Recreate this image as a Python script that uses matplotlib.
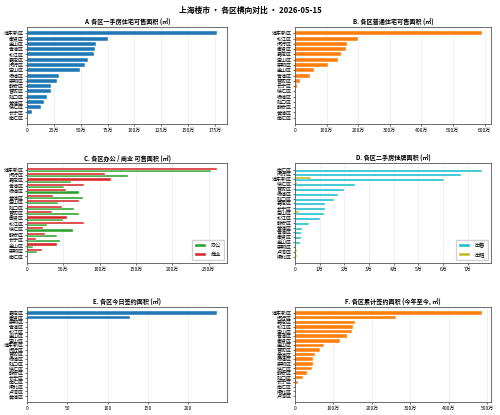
import numpy as np
import matplotlib
matplotlib.use("Agg")
import matplotlib.pyplot as plt
from matplotlib.ticker import FuncFormatter

plt.rcParams['font.family'] = ['Noto Sans CJK SC', 'DejaVu Sans']
plt.rcParams['axes.unicode_minus'] = False

# A. 一手房住宅可售面积 (㎡)
districts_a = ['浦东新区', '奉贤区', '金山区', '青浦区', '松江区', '嘉定区', '闵行区', '宝山区',
               '杨浦区', '崇明区', '静安区', '普陀区', '虹口区', '黄浦区', '徐汇区', '长宁区', '南汇区']
values_a = [1774000, 752000, 643000, 630000, 627000, 564000, 539000, 498000,
            301000, 276000, 223000, 223000, 185000, 160000, 135000, 50000, 0]

# B. 普通住宅可售面积 (㎡)
districts_b = ['浦东新区', '松江区', '闵行区', '奉贤区', '嘉定区', '宝山区', '崇明区', '金山区',
               '青浦区', '普陀区', '长宁区', '徐汇区', '杨浦区', '虹口区', '静安区', '黄浦区', '南汇区']
values_b = [5906000, 2000000, 1646000, 1615000, 1458000, 1375000, 1030000, 594000,
            479000, 146000, 73000, 40000, 30000, 12000, 20000, 3000, 0]

# C. 办公 / 商业 可售面积 (㎡)
districts_c = ['浦东新区', '闵行区', '嘉定区', '青浦区', '杨浦区', '黄浦区', '宝山区', '虹口区',
               '普陀区', '奉贤区', '松江区', '徐汇区', '静安区', '长宁区', '金山区', '崇明区', '南汇区']
office_c = [2530000, 1390000, 610000, 510000, 720000, 770000, 420000, 640000,
            720000, 500000, 270000, 630000, 410000, 460000, 80000, 140000, 0]
shop_c = [2620000, 1070000, 1160000, 780000, 540000, 360000, 720000, 480000,
          350000, 550000, 780000, 220000, 250000, 130000, 410000, 200000, 0]

# D. 二手房挂牌面积 (㎡)
districts_d = ['南汇区', '闵行区', '浦东新区', '徐汇区', '普陀区', '杨浦区', '虹口区', '嘉定区',
               '长宁区', '宝山区', '松江区', '静安区', '黄浦区', '青浦区', '奉贤区', '金山区',
               '崇明区', '卢湾区', '闸北区']
sale_d = [75600, 67100, 60400, 24300, 19900, 17500, 15700, 12100,
          12000, 11900, 10300, 5700, 2700, 2500, 2300, 1900, 300, 0, 0]
rent_d = [0, 400, 6300, 1000, 0, 0, 0, 0,
          0, 1700, 200, 200, 100, 0, 0, 0, 300, 1000, 900]

# E. 今日签约面积 (㎡)
districts_e = ['嘉定区', '奉贤区', '崇明区', '青浦区', '松江区', '金山区', '宝山区', '浦东新区',
               '闵行区', '普陀区', '杨浦区', '虹口区', '徐汇区', '静安区', '长宁区', '南汇区',
               '闸北区', '卢湾区', '黄浦区']
values_e = [236, 128, 0, 0, 0, 0, 0, 0, 0, 0, 0, 0, 0, 0, 0, 0, 0, 0, 0]

# F. 累计签约面积 (今年至今, ㎡)
districts_f = ['浦东新区', '闵行区', '嘉定区', '松江区', '宝山区', '青浦区', '奉贤区', '金山区',
               '普陀区', '黄浦区', '杨浦区', '崇明区', '徐汇区', '静安区', '虹口区', '长宁区',
               '南汇区', '闸北区', '卢湾区']
values_f = [4850000, 2620000, 1570000, 1500000, 1470000, 1350000, 1180000, 750000,
            660000, 510000, 470000, 470000, 440000, 320000, 210000, 80000, 0, 0, 0]


def wan_fmt(x, pos):
    if x == 0:
        return '0'
    if abs(x) >= 10000:
        return f'{x / 10000:g}万'
    return f'{x:g}'


def style_axis(ax, title):
    ax.set_title(title, fontsize=4.4, fontweight='bold', pad=2)
    ax.xaxis.set_major_formatter(FuncFormatter(wan_fmt))
    ax.tick_params(axis='both', labelsize=3.6, length=1.5, width=0.4, pad=1)
    ax.grid(axis='x', alpha=0.3, linewidth=0.4)
    ax.set_axisbelow(True)
    for s in ax.spines.values():
        s.set_linewidth(0.6)
        s.set_color('#555555')
    ax.invert_yaxis()


def single_barh(ax, labels, values, color, title):
    y = np.arange(len(labels))
    ax.barh(y, values, height=0.75, color=color, edgecolor='white', linewidth=0.3)
    ax.set_yticks(y)
    ax.set_yticklabels(labels)
    style_axis(ax, title)


def double_barh(ax, labels, v1, v2, c1, c2, n1, n2, title):
    y = np.arange(len(labels))
    h = 0.4
    ax.barh(y + h / 2, v1, height=h, color=c1, edgecolor='white', linewidth=0.3, label=n1)
    ax.barh(y - h / 2, v2, height=h, color=c2, edgecolor='white', linewidth=0.3, label=n2)
    ax.set_yticks(y)
    ax.set_yticklabels(labels)
    style_axis(ax, title)
    ax.legend(loc='lower right', fontsize=3.8, handlelength=2.2, handleheight=0.6,
              borderpad=0.6, labelspacing=0.7, framealpha=0.9)


fig = plt.figure(figsize=(5, 4.15), dpi=100)
fig.suptitle('上海楼市 · 各区横向对比 · 2026-05-15', fontsize=5.6, fontweight='bold', y=0.985)

ax_a = fig.add_axes([0.054, 0.701, 0.400, 0.234])
ax_b = fig.add_axes([0.590, 0.701, 0.392, 0.234])
ax_c = fig.add_axes([0.054, 0.366, 0.400, 0.241])
ax_d = fig.add_axes([0.590, 0.366, 0.392, 0.241])
ax_e = fig.add_axes([0.054, 0.031, 0.400, 0.229])
ax_f = fig.add_axes([0.590, 0.031, 0.392, 0.229])

single_barh(ax_a, districts_a, values_a, '#1f77b4', 'A. 各区一手房住宅可售面积 (㎡)')
single_barh(ax_b, districts_b, values_b, '#ff7f0e', 'B. 各区普通住宅可售面积 (㎡)')
double_barh(ax_c, districts_c, office_c, shop_c, '#2ca02c', '#d62728', '办公', '商业',
            'C. 各区办公 / 商业 可售面积 (㎡)')
double_barh(ax_d, districts_d, sale_d, rent_d, '#17becf', '#bcbd22', '出售', '出租',
            'D. 各区二手房挂牌面积 (㎡)')
single_barh(ax_e, districts_e, values_e, '#1f77b4', 'E. 各区今日签约面积 (㎡)')
single_barh(ax_f, districts_f, values_f, '#ff7f0e', 'F. 各区累计签约面积 (今年至今, ㎡)')

ax_a.set_xticks(np.arange(0, 1750001, 250000))
ax_b.set_xticks(np.arange(0, 6000001, 1000000))
ax_c.set_xticks(np.arange(0, 2500001, 500000))
ax_d.set_xticks(np.arange(0, 70001, 10000))
ax_e.set_xticks(np.arange(0, 201, 50))
ax_f.set_xticks(np.arange(0, 5000001, 1000000))

fig.savefig('out.png', dpi=100)
